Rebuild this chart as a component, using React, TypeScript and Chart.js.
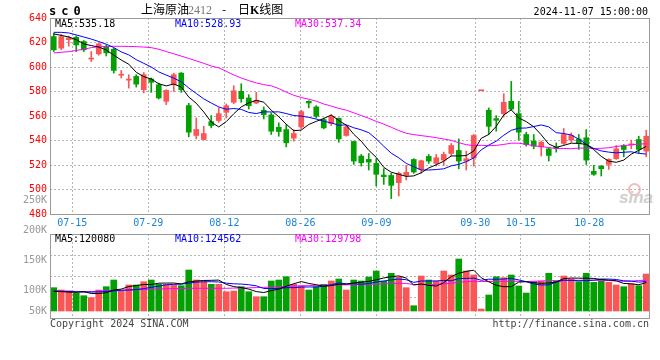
import React, { useEffect, useRef } from 'react';
import { Chart, registerables } from 'chart.js';

Chart.register(...registerables);

// ---------- data ----------
const DATES = [
  '07-10','07-11','07-12','07-15','07-16','07-17','07-18','07-19','07-22','07-23',
  '07-24','07-25','07-26','07-29','07-30','07-31','08-01','08-02','08-05','08-06',
  '08-07','08-08','08-09','08-12','08-13','08-14','08-15','08-16','08-19','08-20',
  '08-21','08-22','08-23','08-26','08-27','08-28','08-29','08-30','09-02','09-03',
  '09-04','09-05','09-06','09-09','09-10','09-11','09-12','09-13','09-18','09-19',
  '09-20','09-23','09-24','09-25','09-26','09-27','09-30','10-08','10-09','10-10',
  '10-11','10-14','10-15','10-16','10-17','10-18','10-21','10-22','10-23','10-24',
  '10-25','10-28','10-29','10-30','10-31','11-01','11-04','11-05','11-06','11-07',
];

const OPEN = [
  624.8,615.4,622.3,624.3,620.8,606.5,610.7,616.5,614.5,593.3,
  589.3,592.3,581.5,590.2,585.5,572.0,585.5,595.0,568.5,544.1,
  540.8,555.4,556.3,563.0,571.2,580.1,574.7,570.6,564.7,560.9,
  550.8,548.9,541.9,551.1,572.0,567.4,557.1,553.8,558.2,544.1,
  539.2,527.3,524.6,521.3,511.8,511.5,505.6,511.5,524.5,516.4,
  527.0,521.3,524.0,529.4,531.9,523.2,525.9,580.6,564.7,557.9,
  561.9,572.0,561.9,544.9,539.5,534.8,533.2,534.5,537.6,540.3,
  541.3,542.2,514.8,518.9,520.5,525.1,535.9,536.4,540.8,531.3,
];
const HIGH = [
  627.6,626.7,625.2,625.4,621.6,612.6,619.4,618.0,615.3,597.2,
  593.7,593.7,595.5,591.0,586.9,581.5,595.0,595.5,570.4,558.4,
  551.6,560.3,566.6,569.8,584.7,586.3,577.4,579.3,567.4,562.5,
  554.4,553.0,548.9,564.7,572.5,568.5,558.4,561.1,558.4,552.2,
  539.5,528.6,529.4,525.1,517.0,513.2,514.3,519.7,525.1,524.0,
  528.6,528.6,530.5,537.6,541.3,531.3,544.9,580.6,566.6,560.3,
  578.2,588.2,572.0,546.8,544.9,539.5,534.0,538.0,549.8,546.2,
  544.9,548.9,519.7,519.7,525.1,535.9,536.7,540.3,543.5,548.4,
];
const LOW = [
  612.6,614.0,617.0,612.6,612.6,604.5,609.6,609.0,595.0,591.0,
  582.8,583.6,578.8,579.3,573.9,569.3,580.1,579.3,543.0,541.4,
  540.5,550.3,554.9,558.4,570.1,571.2,565.7,570.1,557.6,544.9,
  543.5,534.8,539.5,549.5,566.6,558.4,549.5,552.2,538.6,543.5,
  520.5,519.1,515.9,502.9,504.2,492.6,494.7,507.8,513.2,513.2,
  521.3,519.1,519.7,527.3,516.9,515.9,519.1,580.6,544.9,547.6,
  559.2,564.7,540.3,535.4,533.2,527.3,523.2,530.5,536.7,538.6,
  532.7,520.5,511.5,511.0,516.4,524.6,526.7,533.2,530.0,526.7,
];
const CLOSE = [
  614.0,624.8,623.8,618.0,614.0,607.0,618.9,611.5,597.2,593.9,
  589.8,586.0,593.7,587.5,574.7,580.9,593.7,581.5,546.8,549.0,
  545.7,552.2,561.9,568.4,580.6,574.1,568.4,572.5,561.1,547.6,
  547.3,538.1,545.7,563.6,570.6,559.8,550.3,559.8,541.3,551.1,
  523.2,521.8,522.4,512.4,510.5,503.4,513.2,514.0,514.3,523.5,
  523.2,525.9,528.6,535.9,523.2,525.1,544.1,580.6,551.6,556.5,
  571.2,565.7,546.8,536.7,535.4,538.6,527.8,533.5,544.9,544.1,
  537.6,524.0,512.4,517.0,524.6,533.2,532.7,537.0,532.7,543.5,
];

const MA5 = [
  627.0,625.8,624.5,622.3,618.9,617.5,616.3,613.9,609.7,605.7,
  602.3,595.7,592.1,590.2,586.3,584.6,586.1,583.7,575.5,570.4,
  563.3,555.0,551.1,555.4,561.8,567.4,570.7,572.8,571.3,564.7,
  559.4,553.3,548.0,548.5,553.1,555.6,558.0,560.8,556.4,552.5,
  545.1,539.4,532.0,526.2,518.1,514.1,512.4,510.7,511.1,513.7,
  517.6,520.2,523.1,527.4,527.4,527.7,531.4,541.8,544.9,551.6,
  560.8,565.1,558.4,555.4,551.2,544.6,537.1,534.4,536.0,537.8,
  537.6,536.8,532.6,527.0,523.1,522.2,524.0,528.9,532.0,535.18,
];
const MA10 = [
  628.3,628.3,627.8,626.2,624.5,622.8,620.8,618.6,615.9,612.3,
  609.9,606.0,603.0,600.0,596.0,593.4,590.9,587.9,582.9,578.4,
  574.0,570.6,567.4,565.5,566.1,565.4,562.9,562.0,563.4,563.3,
  563.4,562.0,560.4,559.9,558.9,557.5,555.7,554.4,552.4,552.8,
  550.4,548.7,546.4,541.3,535.3,529.6,525.9,521.3,518.6,515.9,
  515.9,516.3,516.9,519.3,520.5,522.7,525.8,532.4,536.2,539.5,
  544.3,548.3,550.1,550.2,551.4,552.7,551.1,546.4,545.7,544.5,
  541.1,536.9,533.5,531.5,530.5,529.9,530.4,530.8,529.5,528.93,
];
const MA30 = [
  611.5,612.0,612.5,613.5,614.5,615.8,616.5,616.8,616.9,616.9,
  616.8,616.6,616.3,615.8,614.5,612.6,610.8,608.9,607.0,605.0,
  603.0,600.8,599.3,596.5,593.5,591.0,588.9,587.0,585.6,584.6,
  582.4,579.5,576.9,575.1,573.7,572.1,569.8,568.1,566.2,564.8,
  562.6,560.4,558.1,555.6,553.4,550.8,548.1,545.9,544.8,544.0,
  543.2,542.3,541.2,540.1,538.2,536.6,535.8,536.1,535.7,536.0,
  536.8,537.8,537.8,536.9,535.7,535.0,534.3,533.4,533.5,533.3,
  533.8,533.8,533.5,533.6,534.1,535.1,535.8,536.5,537.1,537.34,
];

const VOLUME = [
  98600,88800,84600,74900,64700,56300,88800,102800,131100,84600,
  110000,110000,123900,131100,112900,112900,110000,107000,173400,131100,
  123900,112900,112900,81600,84600,102800,81600,60500,60500,126900,
  131100,145100,112900,105800,88800,102800,112900,126900,135400,88800,
  131100,126900,143800,169200,126900,159500,142600,98600,22400,148100,
  131100,126900,169200,152300,220000,169200,152300,8500,67700,145100,
  140900,152300,105800,76100,123900,126900,159500,126900,148100,135400,
  123900,159500,121400,126900,121400,110000,102800,114200,107000,156500,
];
const VOL_MA5 = [
  84000,82000,80000,79000,82300,73900,73900,77500,88700,92700,
  103500,107700,111900,111900,117600,118200,118200,114800,123200,126900,
  129100,129700,130800,112500,103200,99000,92700,82200,78000,86500,
  92100,104800,115300,124400,116700,111100,104600,107400,113400,113400,
  119000,121800,125200,132000,139600,145300,148400,139400,110000,114200,
  108600,105400,119500,145500,159900,167500,172600,140500,123500,108600,
  102900,102900,122400,124000,119800,117000,118400,122700,137100,139400,
  138800,138800,137700,133400,130600,127800,116500,115100,111100,120080,
];
const VOL_MA10 = [
  84000,83000,82000,81000,80000,80000,81000,83000,85000,87500,
  88700,90800,94700,100300,105200,110800,112900,113400,117600,122200,
  123600,123900,122800,117900,115000,114000,111200,106500,95200,94800,
  95500,98800,98800,101200,101600,101600,104700,111400,118900,115100,
  115100,113200,116300,122700,126500,132100,135100,132300,121000,126900,
  126900,126900,129500,127800,137100,138000,139000,130000,134500,134200,
  135200,137800,131400,123800,114200,110000,110700,122500,130600,129600,
  127900,128600,130200,135200,135000,133300,127600,126400,122300,124562,
];
const VOL_MA30 = [
  85000,85000,84000,83000,82000,82000,84000,86000,87000,88000,
  89000,90000,91000,92000,93000,94000,95000,95000,96000,96000,
  96000,96000,96000,96000,97000,97000,98000,99000,100000,101500,
  102600,104500,105400,106500,107300,108800,109600,110400,110600,110700,
  111400,112000,112600,113900,114400,115900,117000,116700,111700,112300,
  112500,113000,114800,117200,121700,123900,126300,124600,124800,125400,
  125700,126000,125700,124700,125900,126700,128300,128300,128700,130200,
  130000,131100,130300,128900,128700,127100,125800,126300,129100,129798,
];

const X_LABELS = ['07-15', '07-29', '08-12', '08-26', '09-09', '09-30', '10-15', '10-28'];
const PRICE_TICKS = [480, 500, 520, 540, 560, 580, 600, 620, 640];
const VOL_AXIS_LABELS = ['250K', '200K', '150K', '100K', '50K'];

// ---------- styling / layout ----------
const MONO = '"DejaVu Sans Mono", monospace';
const RED = '#fa5656';
const GREEN = '#03a003';
const GRID = '#b4b4b4';
const GRID_STRETCH = 1.0138; // sina grid spacing is slightly wider than candle spacing
const GRID_SHIFT = -0.57;
const VOL_MIN = -29600;
const VOL_MAX = 325700;

const candleColor = (i: number) => (CLOSE[i] >= OPEN[i] ? RED : GREEN);

const framePlugin = {
  id: 'frame',
  afterDraw(chart: any) {
    const { ctx, chartArea: a } = chart;
    ctx.save();
    ctx.strokeStyle = '#999999';
    ctx.lineWidth = 1;
    ctx.strokeRect(a.left + 0.5, a.top + 0.5, a.right - a.left - 1, a.bottom - a.top);
    ctx.restore();
  },
};

const volLabelsPlugin = {
  id: 'volLabels',
  afterDraw(chart: any) {
    const { ctx, chartArea: a, scales } = chart;
    const zeroY = scales.y.getPixelForValue(0);
    ctx.save();
    ctx.font = '10px ' + MONO;
    ctx.fillStyle = '#999999';
    ctx.textAlign = 'right';
    ctx.textBaseline = 'middle';
    VOL_AXIS_LABELS.forEach((t, k) => {
      const y = Math.min(a.top - 34 + k * 30.1, zeroY);
      ctx.fillText(t, a.left - 3, y);
    });
    ctx.restore();
  },
};

const xScale = (showLabels: boolean) => ({
  type: 'linear',
  min: -0.5,
  max: DATES.length - 0.5,
  offset: false,
  afterBuildTicks: (s: any) => {
    s.ticks = X_LABELS.map((l) => ({ value: DATES.indexOf(l) * GRID_STRETCH + GRID_SHIFT }));
  },
  ticks: {
    display: showLabels,
    autoSkip: false,
    maxRotation: 0,
    padding: 3,
    color: '#1a84d8',
    font: { family: MONO, size: 10 },
    callback: (_v: any, i: number) => X_LABELS[i],
  },
  grid: { color: GRID, drawTicks: false, offset: false },
  border: { display: false, dash: [2, 2] },
  afterFit: (s: any) => {
    s.height = showLabels ? 18 : 0;
  },
});

const line = (label: string, values: number[], color: string) => ({
  type: 'line',
  label,
  data: values.map((v, i) => ({ x: i, y: v })),
  borderColor: color,
  borderWidth: 1,
  pointRadius: 0,
  tension: 0,
  order: 0,
});

export default function App() {
  const priceRef = useRef<HTMLCanvasElement>(null);
  const volRef = useRef<HTMLCanvasElement>(null);

  useEffect(() => {
    const colors = CLOSE.map((_c, i) => candleColor(i));

    const priceChart = new Chart(priceRef.current as HTMLCanvasElement, {
      type: 'bar',
      data: {
        datasets: [
          line('MA5', MA5, '#000000'),
          line('MA10', MA10, '#0000ff'),
          line('MA30', MA30, '#ff00ff'),
          {
            type: 'bar',
            label: 'body',
            data: OPEN.map((o, i) => ({ x: i, y: [o, CLOSE[i]] })),
            backgroundColor: colors,
            barThickness: 5,
            minBarLength: 1,
            grouped: false,
            order: 1,
          },
          {
            type: 'bar',
            label: 'wick',
            data: HIGH.map((h, i) => ({ x: i, y: [LOW[i], h] })),
            backgroundColor: colors,
            barThickness: 1,
            grouped: false,
            order: 2,
          },
        ] as any,
      },
      options: {
        animation: false,
        responsive: false,
        devicePixelRatio: 1,
        layout: { padding: { top: 18, right: 10, bottom: 0, left: 0 } },
        plugins: { legend: { display: false }, tooltip: { enabled: false } },
        scales: {
          x: xScale(true) as any,
          y: {
            type: 'linear',
            min: 480,
            max: 640,
            afterBuildTicks: (s: any) => {
              s.ticks = PRICE_TICKS.map((v) => ({ value: v }));
            },
            ticks: { color: '#ff0000', font: { family: MONO, size: 10 }, padding: 3 },
            grid: {
              color: (c: any) => (c.tick && (c.tick.value === 480 || c.tick.value === 640) ? 'rgba(0,0,0,0)' : GRID),
              drawTicks: false,
            },
            border: { display: false, dash: [2, 2] },
            afterFit: (s: any) => {
              s.width = 50;
            },
          } as any,
        },
      },
      plugins: [framePlugin],
    });

    const volChart = new Chart(volRef.current as HTMLCanvasElement, {
      type: 'bar',
      data: {
        datasets: [
          line('VMA5', VOL_MA5, '#000000'),
          line('VMA10', VOL_MA10, '#0000ff'),
          line('VMA30', VOL_MA30, '#ff00ff'),
          {
            type: 'bar',
            label: 'volume',
            data: VOLUME.map((v, i) => ({ x: i, y: v })),
            backgroundColor: colors,
            barThickness: 6,
            grouped: false,
            order: 1,
          },
        ] as any,
      },
      options: {
        animation: false,
        responsive: false,
        devicePixelRatio: 1,
        layout: { padding: { top: 44, right: 10, bottom: 12, left: 0 } },
        plugins: { legend: { display: false }, tooltip: { enabled: false } },
        scales: {
          x: xScale(false) as any,
          y: {
            type: 'linear',
            min: VOL_MIN,
            max: VOL_MAX,
            afterBuildTicks: (s: any) => {
              const step = (VOL_MAX - VOL_MIN) / 4;
              s.ticks = [0, 1, 2, 3, 4].map((k) => ({ value: VOL_MIN + k * step }));
            },
            ticks: { display: false },
            grid: {
              color: (c: any) => (c.index === 0 || c.index === 4 ? 'rgba(0,0,0,0)' : GRID),
              drawTicks: false,
            },
            border: { display: false, dash: [2, 2] },
            afterFit: (s: any) => {
              s.width = 50;
            },
          } as any,
        },
      },
      plugins: [framePlugin, volLabelsPlugin],
    });

    return () => {
      priceChart.destroy();
      volChart.destroy();
    };
  }, []);

  const mono = (size: number, extra: any = {}) => ({
    position: 'absolute' as const,
    whiteSpace: 'pre' as const,
    fontFamily: MONO,
    fontSize: size,
    lineHeight: size + 'px',
    ...extra,
  });
  const cjk = { position: 'absolute' as const, whiteSpace: 'pre' as const, fontFamily: '"Noto Sans CJK SC", sans-serif', fontSize: 12, lineHeight: '12px', color: '#000' };
  const last = (a: number[]) => a[a.length - 1];

  return (
    <div style={{ position: 'absolute', left: 0, top: 0, width: 660, height: 360, background: '#fff', overflow: 'hidden' }}>
      {/* sina watermark (under the plot) */}
      <div style={{ position: 'absolute', left: 628, top: 183, width: 9, height: 9, borderRadius: '50%', border: '2px solid #f2bcbc' }} />
      <div style={{ position: 'absolute', left: 619, top: 189, fontFamily: '"Liberation Sans", sans-serif', fontSize: 17, lineHeight: '17px', fontWeight: 'bold', fontStyle: 'italic', color: '#cfcfcf' }}>sina</div>

      <canvas ref={priceRef} width={660} height={232} style={{ position: 'absolute', left: 0, top: 0, width: 660, height: 232 }} />
      <canvas ref={volRef} width={660} height={140} style={{ position: 'absolute', left: 0, top: 190, width: 660, height: 140 }} />

      {/* header */}
      <div style={mono(12, { left: 49, top: 5, fontWeight: 'bold', color: '#000', letterSpacing: '5px' })}>sc0</div>
      <div style={{ ...cjk, left: 141, top: 3 }}>上海原油</div>
      <div style={{ position: 'absolute', left: 188, top: 4, fontFamily: '"Liberation Serif", serif', fontSize: 12, lineHeight: '12px', color: '#777' }}>2412</div>
      <div style={{ ...cjk, left: 222, top: 3 }}>-</div>
      <div style={{ ...cjk, left: 238, top: 3 }}>
        日<b style={{ fontFamily: '"Liberation Serif", serif' }}>K</b>线图
      </div>
      <div style={mono(10, { right: 12, top: 7, color: '#000' })}>2024-11-07 15:00:00</div>

      {/* price legends */}
      <div style={mono(10, { left: 55, top: 19, color: '#000' })}>{'MA5:' + last(MA5).toFixed(2)}</div>
      <div style={mono(10, { left: 175, top: 19, color: '#0000ff' })}>{'MA10:' + last(MA10).toFixed(2)}</div>
      <div style={mono(10, { left: 295, top: 19, color: '#ff00ff' })}>{'MA30:' + last(MA30).toFixed(2)}</div>

      {/* volume legends */}
      <div style={mono(10, { left: 55, top: 234, color: '#000' })}>{'MA5:' + last(VOL_MA5)}</div>
      <div style={mono(10, { left: 175, top: 234, color: '#0000ff' })}>{'MA10:' + last(VOL_MA10)}</div>
      <div style={mono(10, { left: 295, top: 234, color: '#ff00ff' })}>{'MA30:' + last(VOL_MA30)}</div>

      {/* footer */}
      <div style={mono(10, { left: 50, top: 319, color: '#444' })}>Copyright 2024 SINA.COM</div>
      <div style={mono(10, { right: 11, top: 319, color: '#444' })}>http://finance.sina.com.cn</div>
    </div>
  );
}
